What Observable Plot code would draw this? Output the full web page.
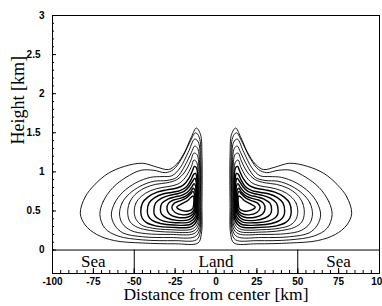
<!DOCTYPE html>
<html><head><meta charset="utf-8">
<script src="https://cdn.jsdelivr.net/npm/d3@7"></script>
<script src="https://cdn.jsdelivr.net/npm/@observablehq/plot@0.6"></script>
<style>body{margin:0;background:#fff}</style>
</head><body><div id="chart"></div>
<script>
// Surface regions (strip below z = 0)
const regionNames = ["Sea", "Land", "Sea"];
const regionCenters = [-75, 0, 75];
const regionBounds = [-50, 50];

// Axis ticks
const xTickLabels = [-100, -75, -50, -25, 0, 25, 50, 75, 100];
const yIntTicks = [0, 1, 2, 3];
const yHalfTicks = [0.5, 1.5, 2.5];

// Streamline loops of the left (x < 0) circulation cell, [distance km, height km],
// outermost first. The right cell is the mirror image.
const loop0 = [[-83,0.47],[-80,0.68],[-74,0.84],[-66,0.98],[-56,1.07],[-45,1.11],[-36,1.06],[-29,1.03],[-24,1.1],[-19,1.26],[-15,1.45],[-12,1.56],[-9.5,1.48],[-8.6,1.2],[-8.6,0.6],[-9,0.2],[-11,0.09],[-25,0.08],[-45,0.09],[-62,0.12],[-73,0.2],[-80,0.32]];
const loop1 = [[-71,0.45],[-69,0.62],[-63,0.8],[-55,0.93],[-46,1.02],[-38,1.02],[-31,0.99],[-26,1.03],[-21,1.17],[-16,1.38],[-12.5,1.5],[-10.2,1.44],[-9.2,1.15],[-9.2,0.6],[-9.6,0.23],[-12,0.13],[-25,0.12],[-45,0.13],[-60,0.18],[-68,0.28]];
const loop2 = [[-64,0.45],[-62,0.6],[-57,0.74],[-49,0.86],[-40,0.93],[-33,0.94],[-27,0.95],[-22,1.05],[-17,1.25],[-13,1.42],[-10.8,1.38],[-9.6,1.1],[-9.6,0.6],[-10,0.26],[-13,0.17],[-28,0.16],[-45,0.17],[-57,0.22],[-62,0.32]];
const loop3 = [[-59,0.46],[-57.5,0.6],[-53,0.72],[-46,0.82],[-38,0.88],[-30,0.89],[-24,0.93],[-19,1.08],[-15,1.25],[-13,1.33],[-11.2,1.3],[-10,1.05],[-10,0.6],[-10.4,0.29],[-13.5,0.21],[-28,0.2],[-43,0.21],[-52,0.25],[-57.3,0.34]];
const loop4 = [[-54,0.47],[-53,0.6],[-49.5,0.71],[-44,0.79],[-37,0.84],[-30,0.86],[-24,0.9],[-19,1.0],[-15.5,1.14],[-13.5,1.24],[-11.6,1.22],[-10.4,1.0],[-10.4,0.6],[-10.8,0.32],[-14,0.24],[-28,0.23],[-40,0.25],[-48,0.29],[-52.5,0.36]];
const loop5 = [[-50,0.48],[-49,0.6],[-45.5,0.69],[-40,0.76],[-33,0.8],[-27,0.82],[-22,0.86],[-18,0.95],[-15,1.07],[-13.6,1.15],[-12,1.13],[-10.8,0.95],[-10.8,0.6],[-11.2,0.35],[-14.5,0.27],[-28,0.26],[-39,0.28],[-45.5,0.32],[-48.8,0.39]];
const loop6 = [[-46,0.49],[-45,0.6],[-41.5,0.68],[-36,0.74],[-30,0.77],[-24.5,0.79],[-20,0.83],[-16.5,0.92],[-14.3,1.02],[-13.2,1.07],[-11.9,1.05],[-11.2,0.9],[-11.2,0.6],[-11.6,0.38],[-15,0.3],[-27,0.29],[-37,0.31],[-42.5,0.35],[-45.2,0.41]];
const loop7 = [[-42,0.5],[-41,0.6],[-37.5,0.67],[-32,0.72],[-26.5,0.74],[-22,0.76],[-18,0.81],[-15.2,0.9],[-13.6,0.97],[-12.5,0.98],[-11.6,0.86],[-11.6,0.6],[-12,0.41],[-15.5,0.33],[-26,0.32],[-34,0.34],[-39,0.38],[-41.3,0.43]];
const loop8 = [[-38,0.51],[-37,0.6],[-33.5,0.66],[-28.5,0.7],[-23.5,0.72],[-19.5,0.75],[-16.5,0.81],[-14.3,0.88],[-12.9,0.92],[-12.1,0.86],[-11.9,0.7],[-12,0.5],[-12.5,0.43],[-16,0.36],[-25,0.35],[-32,0.37],[-36,0.41],[-37.6,0.45]];
const loop9 = [[-34,0.52],[-33,0.6],[-29.5,0.65],[-25,0.68],[-21,0.7],[-17.5,0.74],[-15,0.8],[-13.4,0.85],[-12.5,0.82],[-12.3,0.7],[-12.4,0.53],[-13,0.46],[-16.5,0.39],[-24,0.38],[-30,0.41],[-33.3,0.46]];
const loop10 = [[-30,0.53],[-29,0.6],[-26,0.64],[-22,0.66],[-18.5,0.69],[-15.7,0.74],[-13.8,0.79],[-12.9,0.76],[-12.7,0.64],[-12.9,0.52],[-14,0.46],[-17.5,0.42],[-24,0.42],[-28.5,0.46]];
const loop11 = [[-27,0.54],[-25.5,0.6],[-22,0.63],[-18.5,0.66],[-15.8,0.71],[-14,0.75],[-13.2,0.71],[-13.1,0.6],[-13.6,0.51],[-15.5,0.47],[-20,0.45],[-25,0.48]];
const loop12 = [[-24,0.55],[-21,0.59],[-17.5,0.63],[-15,0.68],[-13.9,0.69],[-13.6,0.6],[-14.3,0.53],[-17,0.5],[-21.5,0.51]];
const leftCellLoops = [loop0, loop1, loop2, loop3, loop4, loop5, loop6, loop7, loop8, loop9, loop10, loop11, loop12];

const outerRows = [], innerRows = [];
leftCellLoops.forEach((loop, i) => loop.forEach(([x, y]) => {
  const target = i < 6 ? outerRows : innerRows;
  target.push({loop: "L" + i, x, y});
  target.push({loop: "R" + i, x: -x, y});
}));

const W = 382, H = 306, mL = 52, mR = 3, mT = 15, mB = 33;
const pw = W - mL - mR, ph = H - mT - mB;
const xMinor = d3.range(-100, 101, 5);
const yMinor = d3.range(0, 31).map(i => i / 10);
const serif = "'Liberation Serif', 'Times New Roman', serif";

const chart = Plot.plot({
  width: W, height: H,
  marginLeft: mL, marginRight: mR, marginTop: mT, marginBottom: mB,
  x: {domain: [-100, 100]},
  y: {domain: [-0.3, 3]},
  style: {fontFamily: "'Liberation Sans', Arial, sans-serif", fontSize: "10px", fontWeight: "bold", background: "white", color: "black", overflow: "visible"},
  marks: [
    Plot.line(outerRows, {x: "x", y: "y", z: "loop", curve: "catmull-rom-closed", stroke: "black", strokeWidth: 0.9}),
    Plot.line(innerRows, {x: "x", y: "y", z: "loop", curve: "catmull-rom-closed", stroke: "black", strokeWidth: 1.4}),
    Plot.ruleY([0], {stroke: "black", strokeWidth: 1}),
    Plot.ruleX(regionBounds, {x: d => d, y1: -0.3, y2: 0, stroke: "black"}),
    Plot.text(regionNames, {x: (d, i) => regionCenters[i], y: -0.15, text: d => d, fontFamily: serif, fontSize: 17, fontWeight: "normal"}),
    Plot.tickX(xMinor, {x: d => d, insetTop: ph - 3, stroke: "black"}),
    Plot.tickX(xTickLabels, {x: d => d, insetTop: ph - 5, stroke: "black"}),
    Plot.tickY(yMinor, {y: d => d, insetRight: pw - 2, stroke: "black"}),
    Plot.tickY(yIntTicks.concat(yHalfTicks), {y: d => d, insetRight: pw - 4, stroke: "black"}),
    Plot.axisX(xTickLabels, {tickSize: 0, tickPadding: 4, label: null, tickFormat: d => String(d)}),
    Plot.axisY(yIntTicks, {tickSize: 0, tickPadding: 8, label: null, tickFormat: d => String(d)}),
    Plot.axisY(yHalfTicks, {tickSize: 0, tickPadding: 12, label: null, tickFormat: d => String(d)}),
    Plot.frame({stroke: "black"}),
    Plot.text(["Distance from center [km]"], {frameAnchor: "bottom", dy: 26, text: d => d, fontFamily: serif, fontSize: 17.5, fontWeight: "normal", fill: "black"}),
    Plot.text(["Height [km]"], {frameAnchor: "left", dx: -34, rotate: -90, text: d => d, fontFamily: serif, fontSize: 18, fontWeight: "normal", fill: "black"})
  ]
});
document.getElementById("chart").appendChild(chart);
</script>
</body></html>
